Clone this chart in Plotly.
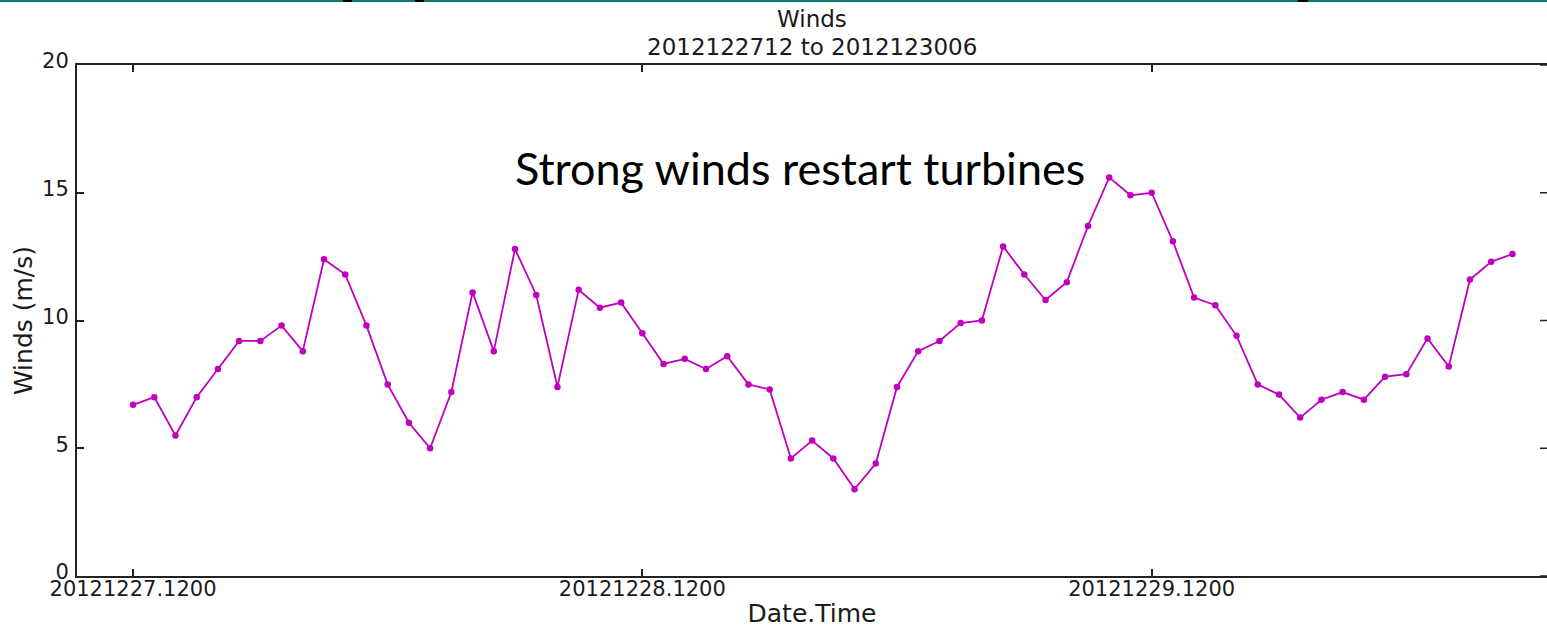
import pandas as pd
import plotly.graph_objects as go

# Hourly wind speed observations (m/s), starting 2012-12-27 12:00
start_time = "2012-12-27 12:00"
winds = [
    6.7, 7.0, 5.5, 7.0, 8.1, 9.2, 9.2, 9.8, 8.8, 12.4, 11.8, 9.8,
    7.5, 6.0, 5.0, 7.2, 11.1, 8.8, 12.8, 11.0, 7.4, 11.2, 10.5, 10.7,
    9.5, 8.3, 8.5, 8.1, 8.6, 7.5, 7.3, 4.6, 5.3, 4.6, 3.4, 4.4,
    7.4, 8.8, 9.2, 9.9, 10.0, 12.9, 11.8, 10.8, 11.5, 13.7, 15.6, 14.9,
    15.0, 13.1, 10.9, 10.6, 9.4, 7.5, 7.1, 6.2, 6.9, 7.2, 6.9, 7.8,
    7.9, 9.3, 8.2, 11.6, 12.3, 12.6,
]
times = pd.date_range(start_time, periods=len(winds), freq="h")

x_tick_times = ["2012-12-27 12:00", "2012-12-28 12:00", "2012-12-29 12:00"]
x_tick_labels = ["20121227.1200", "20121228.1200", "20121229.1200"]
y_ticks = [0, 5, 10, 15, 20]

title_lines = ["Winds", "2012122712 to 2012123006"]
note_text = "Strong winds restart turbines"

t0 = pd.Timestamp(start_time)
x_range = [
    (t0 - pd.Timedelta(hours=2.64)).strftime("%Y-%m-%d %H:%M:%S"),
    (t0 + pd.Timedelta(hours=66.63)).strftime("%Y-%m-%d %H:%M:%S"),
]

W, H = 1547, 628
ML, MR, MT, MB = 77, 0, 65, 52
PW, PH = W - ML - MR, H - MT - MB

LINE = "#bf00bf"
SPINE = "#222222"
TEXT = "#1a1a1a"
FONT = "DejaVu Sans"


def px_x(px):
    return (px - ML) / PW


def px_y(py):
    return (H - MB - py) / PH


fig = go.Figure()
fig.add_trace(
    go.Scatter(
        x=times,
        y=winds,
        mode="lines+markers",
        line=dict(color=LINE, width=1.8),
        marker=dict(color=LINE, size=6.5),
        showlegend=False,
        hoverinfo="x+y",
    )
)

fig.update_layout(
    width=W,
    height=H,
    margin=dict(l=ML, r=MR, t=MT, b=MB, autoexpand=False),
    paper_bgcolor="white",
    plot_bgcolor="white",
    font=dict(family=FONT, size=21, color=TEXT),
    xaxis=dict(
        range=x_range,
        tickvals=x_tick_times,
        ticktext=x_tick_labels,
        ticks="inside",
        ticklen=7,
        tickwidth=1.5,
        tickcolor=SPINE,
        showline=True,
        linewidth=2,
        linecolor=SPINE,
        mirror="ticks",
        showgrid=False,
        zeroline=False,
        automargin=False,
        ticklabelstandoff=-7,
        title=dict(text="Date.Time", standoff=17),
        tickfont=dict(size=21),
    ),
    yaxis=dict(
        range=[0, 20],
        tickvals=y_ticks,
        ticks="inside",
        ticklen=7,
        tickwidth=1.5,
        tickcolor=SPINE,
        showline=True,
        linewidth=2,
        linecolor=SPINE,
        showgrid=False,
        zeroline=False,
        automargin=False,
        ticklabelstandoff=2,
        ticklabelshift=-4,
        title=dict(text="Winds (m/s)", standoff=2),
        tickfont=dict(size=21),
    ),
)

# two-line title centred over the plot area
for line_text, cy in zip(title_lines, [19, 47]):
    fig.add_annotation(
        text=line_text,
        xref="paper",
        yref="paper",
        x=0.5,
        y=px_y(cy),
        xanchor="center",
        yanchor="middle",
        showarrow=False,
        font=dict(family=FONT, size=23, color=TEXT),
    )

fig.add_annotation(
    text=note_text,
    xref="paper",
    yref="paper",
    x=px_x(800),
    y=px_y(168),
    xanchor="center",
    yanchor="middle",
    showarrow=False,
    font=dict(family="Lato", size=45, color="black"),
)

# inward tick marks along the right-hand side
for v in y_ticks:
    fig.add_shape(
        type="line",
        xref="paper",
        yref="y",
        x0=1 - 7 / PW,
        x1=1,
        y0=v,
        y1=v,
        line=dict(color=SPINE, width=1.5),
    )

# slide border strip across the top edge
fig.add_shape(
    type="rect",
    xref="paper",
    yref="paper",
    x0=-0.06,
    x1=1.01,
    ysizemode="pixel",
    yanchor=1,
    y0=MT - 2,
    y1=MT + 1,
    line=dict(width=0),
    fillcolor="#007b7b",
    layer="above",
)
for bx0, bx1 in [(343, 352), (415, 424), (1298, 1308)]:
    fig.add_shape(
        type="rect",
        xref="paper",
        yref="paper",
        x0=px_x(bx0),
        x1=px_x(bx1),
        ysizemode="pixel",
        yanchor=1,
        y0=MT - 2,
        y1=MT + 1,
        line=dict(width=0),
        fillcolor="black",
        layer="above",
    )

fig.write_html("out.html")
